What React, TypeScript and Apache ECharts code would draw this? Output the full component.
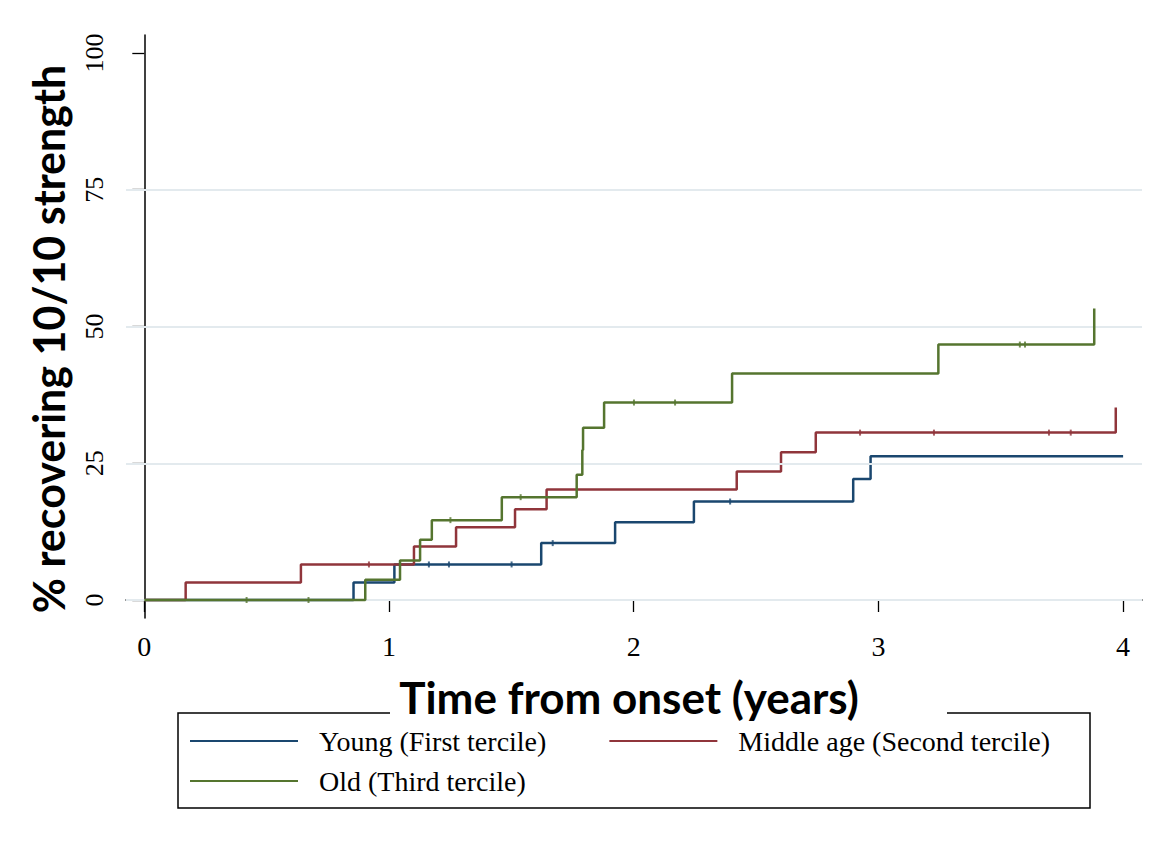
import React, { useEffect, useRef } from "react";
import * as echarts from "echarts";

// ---- Data ----
const xTicks = [0, 1, 2, 3, 4];
const yTicks = [0, 25, 50, 75, 100];
const gridValues = [0, 25, 50, 75];

const seriesNames = [
  "Young (First tercile)",
  "Middle age (Second tercile)",
  "Old (Third tercile)",
];

const youngT = [0, 0.855, 1.022, 1.622, 1.924, 2.246, 2.897, 2.968, 4.0];
const youngV = [0, 3.2, 6.5, 10.4, 14.2, 18.0, 22.1, 26.3, 26.3];

const middleT = [0, 0.169, 0.64, 1.102, 1.274, 1.515, 1.644, 2.421, 2.602, 2.744, 3.97];
const middleV = [0, 3.2, 6.5, 9.8, 13.3, 16.6, 20.2, 23.5, 27.0, 30.6, 35.2];

const oldT = [0, 0.903, 1.045, 1.127, 1.175, 1.461, 1.767, 1.79, 1.793, 1.879, 2.402, 3.245, 3.882];
const oldV = [0, 3.7, 7.2, 11.0, 14.6, 18.8, 22.9, 27.4, 31.5, 36.1, 41.4, 46.7, 53.3];

// censoring marks: [time, value]
const youngCens = [[1.163, 6.5], [1.245, 6.5], [1.501, 6.5], [1.669, 10.4], [2.394, 18.0]];
const middleCens = [[0.918, 6.5], [2.925, 30.6], [3.227, 30.6], [3.697, 30.6], [3.786, 30.6]];
const oldCens = [[0.418, 0], [0.671, 0], [1.251, 14.6], [1.538, 18.8], [2.001, 36.1], [2.169, 36.1], [3.578, 46.7], [3.599, 46.7]];

const colors = ["#1a476f", "#90353b", "#55752f"];

const zip = (t: number[], v: number[]) => t.map((x, i) => [x, v[i]]);

export default function App() {
  const ref = useRef<HTMLDivElement>(null);

  useEffect(() => {
    if (!ref.current) return;
    const chart = echarts.init(ref.current, null, { renderer: "svg" });

    const serif = "'Liberation Serif', 'Times New Roman', serif";
    const sans = "Lato, 'Open Sans', sans-serif";

    const lineSeries = [
      { name: seriesNames[0], data: zip(youngT, youngV), color: colors[0] },
      { name: seriesNames[1], data: zip(middleT, middleV), color: colors[1] },
      { name: seriesNames[2], data: zip(oldT, oldV), color: colors[2] },
    ].map((s, i) => ({
      type: "line",
      name: s.name,
      data: s.data,
      step: "end",
      symbol: "none",
      z: 3 + i,
      itemStyle: { color: s.color },
      lineStyle: { color: s.color, width: 2.5 },
    }));

    const censSeries = [youngCens, middleCens, oldCens].map((d, i) => ({
      type: "scatter",
      name: "cens" + i,
      data: d,
      symbol: "rect",
      symbolSize: [2, 6],
      z: 3 + i,
      itemStyle: { color: colors[i] },
    }));

    const legendText = { fontFamily: serif, fontSize: 28, color: "#000", padding: [0, 0, 0, 16] };

    const option: any = {
      animation: false,
      backgroundColor: "#ffffff",
      grid: { left: 126, right: 12, top: 35, bottom: 227, containLabel: false },
      xAxis: {
        type: "value",
        min: -0.0748,
        max: 4.0772,
        axisLine: { show: true, lineStyle: { color: "#000", width: 1.5 } },
        axisTick: { show: true, length: 12, customValues: xTicks, lineStyle: { color: "#000", width: 1.3 } },
        axisLabel: { customValues: xTicks, color: "#000", fontFamily: serif, fontSize: 28, margin: 14 },
        splitLine: { show: false },
      },
      yAxis: {
        type: "value",
        min: -3.29,
        max: 103.29,
        axisLine: { show: true, lineStyle: { color: "#000", width: 1.5 } },
        axisTick: { show: true, length: 12, customValues: yTicks, lineStyle: { color: "#000", width: 1.3 } },
        axisLabel: { customValues: yTicks, rotate: 90, color: "#000", fontFamily: serif, fontSize: 26, margin: 19 },
        splitLine: { show: false },
      },
      legend: [
        {
          data: [seriesNames[0], seriesNames[1]],
          left: 190,
          top: 727,
          padding: 0,
          icon: "rect",
          itemWidth: 108,
          itemHeight: 2,
          itemGap: 63,
          selectedMode: false,
          textStyle: legendText,
        },
        {
          data: [seriesNames[2]],
          left: 190,
          top: 767,
          padding: 0,
          icon: "rect",
          itemWidth: 108,
          itemHeight: 2,
          selectedMode: false,
          textStyle: legendText,
        },
      ],
      graphic: [
        {
          type: "polyline",
          shape: { points: [[390, 713], [178, 713], [178, 808], [1090, 808], [1090, 713], [947, 713]] },
          style: { stroke: "#000", lineWidth: 1.5, fill: null },
          silent: true,
        },
        {
          type: "text",
          x: 629,
          y: 697,
          style: {
            text: "Time from onset (years)",
            font: "bold 44px " + sans,
            fill: "#000",
            align: "center",
            verticalAlign: "middle",
          },
        },
        {
          type: "text",
          x: 48,
          y: 339,
          rotation: Math.PI / 2,
          style: {
            text: "% recovering 10/10 strength",
            font: "bold 43px " + sans,
            fill: "#000",
            align: "center",
            verticalAlign: "middle",
          },
        },
      ],
      series: [
        {
          type: "line",
          name: "grid",
          data: [],
          z: 1,
          silent: true,
          markLine: {
            silent: true,
            symbol: "none",
            label: { show: false },
            lineStyle: { color: "#e3eaee", width: 2, type: "solid" },
            data: gridValues.map((v) => ({ yAxis: v })),
          },
        },
        ...lineSeries,
        ...censSeries,
      ],
    };

    chart.setOption(option);
    return () => chart.dispose();
  }, []);

  return <div ref={ref} style={{ width: 1154, height: 845, position: "absolute", left: 0, top: 0 }} />;
}
